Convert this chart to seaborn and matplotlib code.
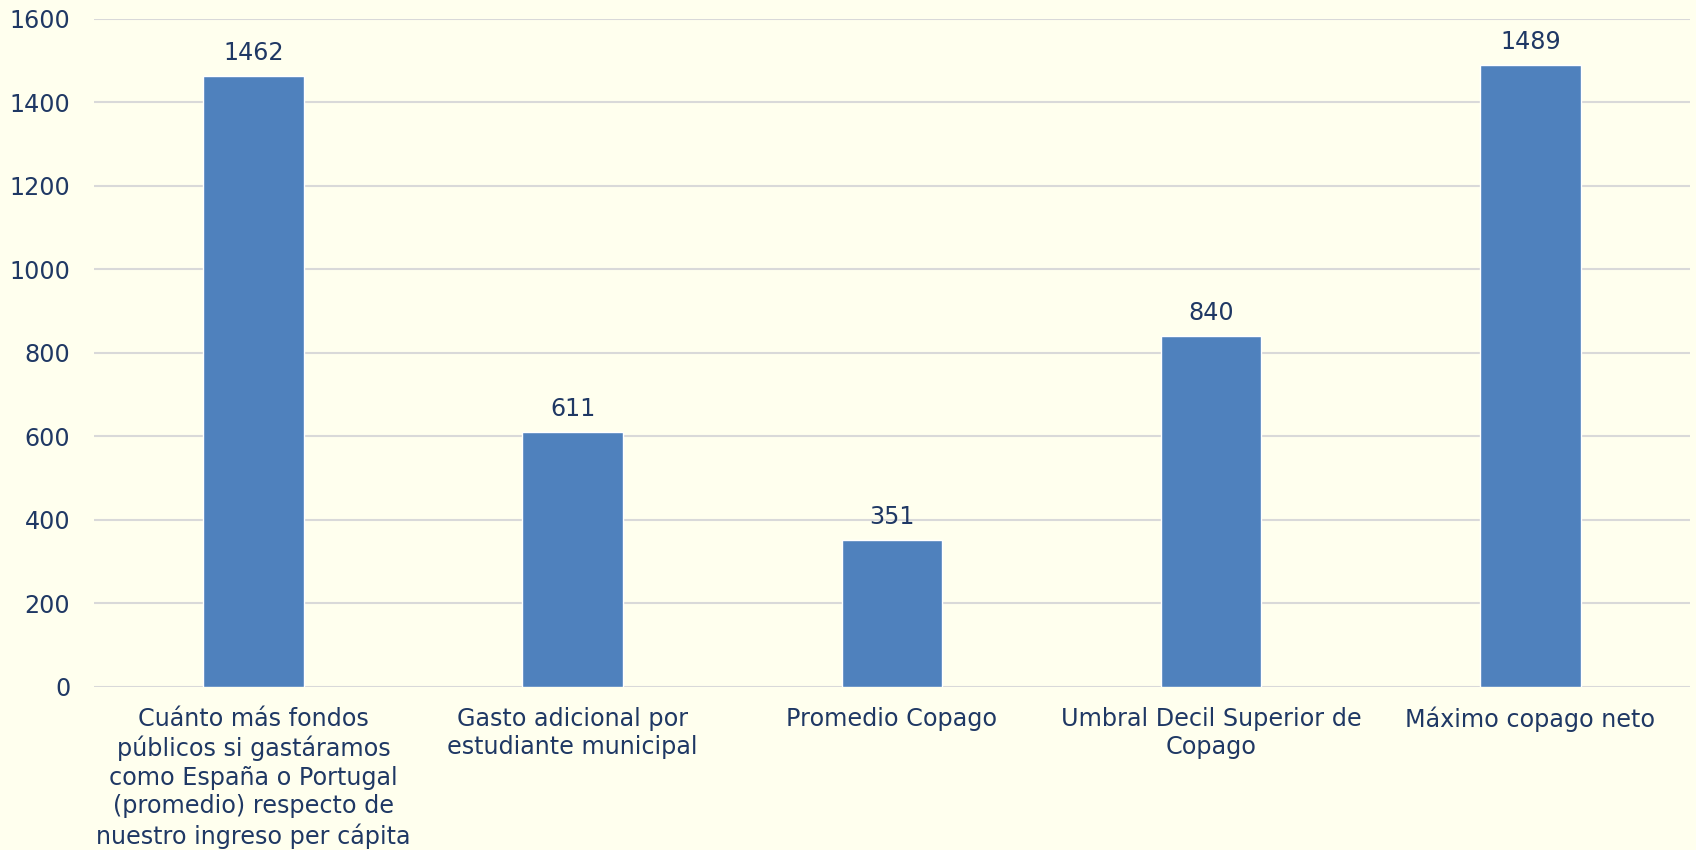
import matplotlib.pyplot as plt
import seaborn as sns
import pandas as pd

categories = [
    "Cuánto más fondos\npúblicos si gastáramos\ncomo España o Portugal\n(promedio) respecto de\nnuestro ingreso per cápita",
    "Gasto adicional por\nestudiante municipal",
    "Promedio Copago",
    "Umbral Decil Superior de\nCopago",
    "Máximo copago neto",
]
values = [1462, 611, 351, 840, 1489]
y_ticks = [0, 200, 400, 600, 800, 1000, 1200, 1400, 1600]

bg = "#FFFFEE"
text_color = "#1F3864"
bar_color = "#4F81BD"

sns.set_theme(style="white")
plt.rcParams["font.family"] = ["DejaVu Sans"]

df = pd.DataFrame({"cat": categories, "value": values})

fig = plt.figure(figsize=(16.96, 8.5), dpi=100, facecolor=bg)
ax = fig.add_axes([0.0554, 0.192, 0.941, 0.786])
ax.set_facecolor(bg)

sns.barplot(data=df, x="cat", y="value", color=bar_color, width=0.315,
            saturation=1, errorbar=None, ax=ax, zorder=3)

ax.set_ylim(0, 1600)
ax.set_xlim(-0.5, 4.5)
ax.set_yticks(y_ticks)
ax.grid(True, axis="y", color="#D9D9D9", linewidth=1.5, zorder=0)
ax.set_axisbelow(True)
for s in ax.spines.values():
    s.set_visible(False)

ax.set_xlabel("")
ax.set_ylabel("")
ax.tick_params(axis="y", length=0, pad=17, labelsize=17.2, labelcolor=text_color)
ax.tick_params(axis="x", length=0, pad=14.5, labelsize=17.2, labelcolor=text_color)
for lbl in ax.get_xticklabels():
    lbl.set_linespacing(1.24)

for c in ax.containers:
    ax.bar_label(c, fmt="%d", padding=8, fontsize=17.2, color=text_color)

fig.savefig("out.png", dpi=100, facecolor=bg)
